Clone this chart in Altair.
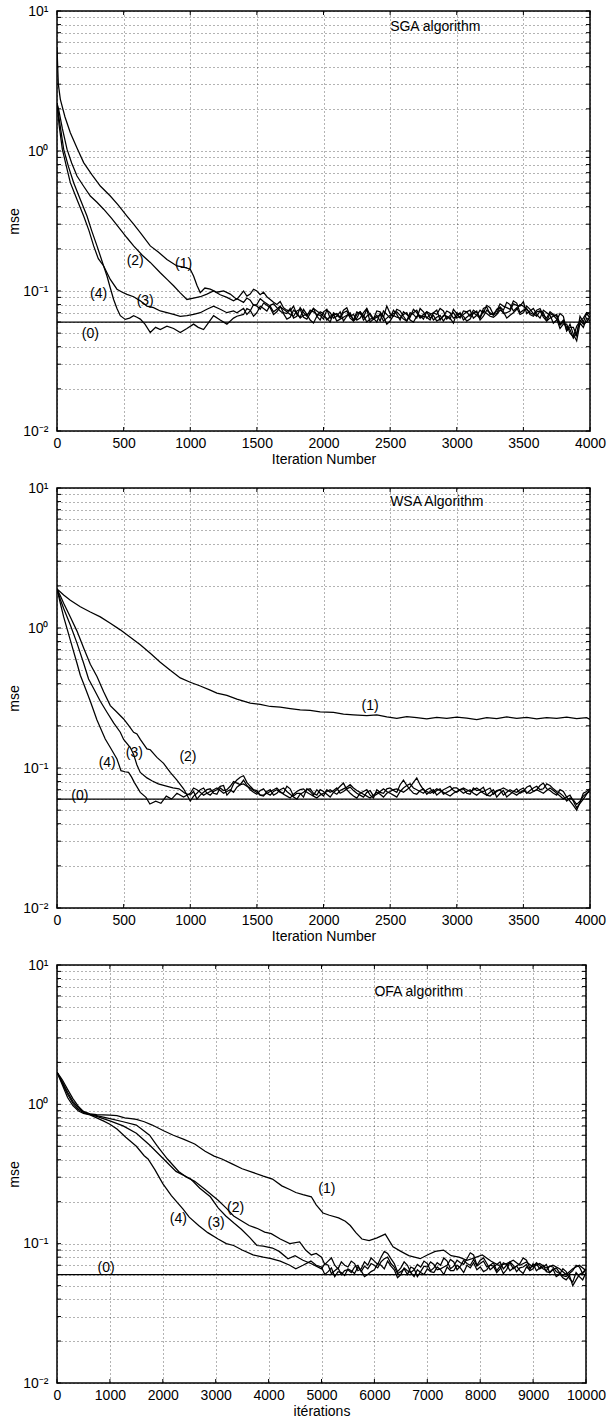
import altair as alt
import pandas as pd

FONT = "Liberation Sans"

# ---------------- SGA panel data ----------------
SGA_BAND_IT = list(range(1400, 4001, 50))
SGA_MID_IT = list(range(1425, 3976, 50))

SGA1_IT = [0, 10, 25, 60, 100, 150, 200, 260, 325, 400, 460, 525, 575, 625, 700, 760, 825, 900, 950, 1000,
           1025, 1050, 1075, 1110, 1150, 1200, 1250, 1300, 1350]
SGA1_V = [5.5, 3.0, 2.34, 1.75, 1.35, 1.05, 0.826, 0.68, 0.562, 0.477, 0.41, 0.343, 0.3, 0.261, 0.21, 0.19,
          0.168, 0.151, 0.148, 0.143, 0.128, 0.11, 0.0974, 0.105, 0.103, 0.098, 0.1, 0.095, 0.087]
SGA1_BAND = [0.100, 0.095, 0.100, 0.098, 0.087, 0.080, 0.076, 0.072, 0.068, 0.074, 0.070, 0.066, 0.071,
             0.064, 0.069, 0.073, 0.066, 0.062, 0.070, 0.067, 0.072, 0.065, 0.069, 0.074, 0.066, 0.070,
             0.064, 0.071, 0.068, 0.073, 0.067, 0.063, 0.069, 0.072, 0.066, 0.070, 0.075, 0.068, 0.072,
             0.078, 0.074, 0.082, 0.073, 0.068, 0.071, 0.065, 0.069, 0.063, 0.058, 0.050, 0.056, 0.064, 0.068]
SGA1_MID = [0.092, 0.103, 0.094, 0.091,
            0.083, 0.084, 0.073, 0.078, 0.065, 0.068, 0.075, 0.062,
            0.074, 0.067, 0.065, 0.076, 0.068, 0.064, 0.075, 0.063, 0.071, 0.078,
            0.066, 0.072, 0.061, 0.068, 0.075, 0.064, 0.070, 0.062, 0.066, 0.074,
            0.064, 0.071, 0.073, 0.065, 0.077, 0.069, 0.081, 0.076, 0.085, 0.070,
            0.075, 0.066, 0.072, 0.061, 0.067, 0.054, 0.058, 0.047, 0.061, 0.070]

SGA2_IT = [0, 12, 40, 75, 110, 150, 200, 250, 300, 350, 410, 475, 525, 575, 640, 700, 775, 830, 875, 925,
           975, 1025, 1075, 1125, 1175, 1225, 1275, 1325, 1350]
SGA2_V = [2.2, 1.99, 1.45, 1.03, 0.82, 0.662, 0.56, 0.477, 0.43, 0.384, 0.33, 0.276, 0.24, 0.21, 0.18, 0.16,
          0.135, 0.12, 0.109, 0.097, 0.087, 0.089, 0.091, 0.095, 0.1, 0.094, 0.09, 0.085, 0.088]
SGA2_BAND = [0.083, 0.086, 0.080, 0.084, 0.078, 0.074, 0.070, 0.075, 0.066, 0.070, 0.073, 0.068, 0.063,
             0.070, 0.066, 0.061, 0.068, 0.071, 0.065, 0.060, 0.067, 0.072, 0.064, 0.068, 0.071, 0.065,
             0.070, 0.066, 0.062, 0.068, 0.072, 0.067, 0.064, 0.068, 0.073, 0.067, 0.070, 0.076, 0.069,
             0.073, 0.080, 0.076, 0.070, 0.074, 0.066, 0.070, 0.064, 0.068, 0.062, 0.055, 0.048, 0.060, 0.064]
SGA2_MID = [0.089, 0.079, 0.088, 0.081,
            0.071, 0.078, 0.069, 0.064, 0.076, 0.066, 0.071, 0.067,
            0.073, 0.064, 0.071, 0.066, 0.062, 0.069, 0.074, 0.063, 0.061, 0.068,
            0.073, 0.062, 0.068, 0.074, 0.064, 0.065, 0.070, 0.075, 0.063, 0.070,
            0.066, 0.071, 0.064, 0.073, 0.079, 0.068, 0.077, 0.083, 0.072, 0.068,
            0.078, 0.069, 0.072, 0.061, 0.066, 0.058, 0.052, 0.055, 0.066, 0.069]

SGA3_IT = [0, 20, 50, 85, 125, 175, 225, 260, 300, 350, 400, 450, 490, 525, 575, 625, 675, 725, 775, 825,
           875, 925, 975, 1025, 1075, 1125, 1175, 1225, 1275, 1325, 1350]
SGA3_V = [2.2, 1.6, 1.03, 0.78, 0.594, 0.45, 0.343, 0.27, 0.21, 0.151, 0.121, 0.103, 0.098, 0.0946, 0.091,
          0.085, 0.078, 0.076, 0.072, 0.07, 0.068, 0.066, 0.0666, 0.068, 0.07, 0.074, 0.078, 0.074, 0.07,
          0.072, 0.07]
SGA3_BAND = [0.075, 0.072, 0.078, 0.082, 0.076, 0.071, 0.074, 0.068, 0.072, 0.065, 0.069, 0.072, 0.066,
             0.060, 0.067, 0.070, 0.064, 0.068, 0.062, 0.069, 0.065, 0.061, 0.067, 0.071, 0.063, 0.067,
             0.073, 0.068, 0.064, 0.061, 0.066, 0.070, 0.066, 0.062, 0.068, 0.072, 0.066, 0.070, 0.074,
             0.069, 0.072, 0.079, 0.084, 0.072, 0.068, 0.073, 0.067, 0.062, 0.066, 0.058, 0.044, 0.055, 0.061]
SGA3_MID = [0.068, 0.080, 0.074, 0.079,
            0.068, 0.077, 0.071, 0.066, 0.074, 0.063, 0.075, 0.069,
            0.064, 0.070, 0.064, 0.072, 0.061, 0.071, 0.066, 0.063, 0.068, 0.064,
            0.069, 0.067, 0.061, 0.070, 0.065, 0.071, 0.067, 0.063, 0.072, 0.064,
            0.070, 0.065, 0.069, 0.062, 0.073, 0.067, 0.076, 0.070, 0.081, 0.078,
            0.069, 0.075, 0.064, 0.070, 0.059, 0.069, 0.052, 0.049, 0.059, 0.064]

SGA4_IT = [0, 15, 40, 70, 100, 150, 200, 240, 275, 310, 350, 375, 400, 425, 450, 475, 512, 545, 575, 600,
           625, 660, 700, 740, 775, 825, 875, 925, 975, 1025, 1060, 1100, 1140, 1175, 1225, 1275, 1325, 1350]
SGA4_V = [2.2, 1.55, 1.03, 0.78, 0.594, 0.45, 0.343, 0.27, 0.21, 0.17, 0.151, 0.128, 0.105, 0.087, 0.075,
          0.0666, 0.0627, 0.064, 0.0666, 0.065, 0.063, 0.058, 0.0505, 0.055, 0.053, 0.056, 0.054, 0.0505,
          0.054, 0.058, 0.055, 0.053, 0.06, 0.0666, 0.062, 0.058, 0.064, 0.066]
SGA4_BAND = [0.068, 0.073, 0.070, 0.075, 0.079, 0.076, 0.069, 0.065, 0.070, 0.067, 0.062, 0.066, 0.069,
             0.066, 0.061, 0.065, 0.070, 0.064, 0.067, 0.063, 0.060, 0.066, 0.061, 0.065, 0.068, 0.062,
             0.066, 0.063, 0.069, 0.065, 0.061, 0.064, 0.070, 0.066, 0.063, 0.067, 0.072, 0.066, 0.068,
             0.071, 0.067, 0.074, 0.078, 0.070, 0.073, 0.067, 0.071, 0.066, 0.060, 0.053, 0.050, 0.058, 0.066]
SGA4_MID = [0.075, 0.066, 0.078, 0.072,
            0.081, 0.072, 0.063, 0.073, 0.064, 0.068, 0.059, 0.071,
            0.062, 0.068, 0.063, 0.067, 0.061, 0.071, 0.060, 0.064, 0.069, 0.058,
            0.067, 0.064, 0.070, 0.060, 0.067, 0.071, 0.062, 0.067, 0.066, 0.059,
            0.068, 0.061, 0.070, 0.064, 0.069, 0.065, 0.073, 0.064, 0.070, 0.080,
            0.074, 0.068, 0.075, 0.064, 0.068, 0.057, 0.055, 0.046, 0.062, 0.060]

SGA_LABEL_TXT = ["(0)", "(1)", "(2)", "(3)", "(4)"]
SGA_LABEL_IT = [250, 950, 587, 662, 312]
SGA_LABEL_V = [0.049, 0.155, 0.164, 0.085, 0.0946]
SGA_TITLE = ["SGA algorithm"]
SGA_TITLE_IT = [2500]
SGA_TITLE_V = [7.7]

# ---------------- WSA panel data ----------------
WSA_BAND_IT = list(range(1000, 4001, 50))
WSA_MID_IT = list(range(1025, 3976, 50))

WSA1_IT = [0, 50, 100, 175, 250, 325, 400, 475, 550, 625, 700, 775, 850, 925, 1000, 1075, 1150, 1200, 1275,
           1350, 1400, 1450, 1525, 1600, 1675, 1750, 1825, 1900, 1975, 2075, 2150, 2225, 2325, 2400, 2475,
           2550, 2625, 2700, 2775, 2850, 2925, 3000, 3075, 3150, 3225, 3300, 3375, 3450, 3525, 3600, 3675,
           3750, 3825, 3900, 3975, 4000]
WSA1_V = [1.9, 1.72, 1.58, 1.42, 1.3, 1.2, 1.08, 0.97, 0.86, 0.76, 0.66, 0.57, 0.5, 0.44, 0.41, 0.385, 0.36,
          0.343, 0.33, 0.31, 0.3, 0.291, 0.285, 0.275, 0.272, 0.266, 0.26, 0.258, 0.252, 0.25, 0.243, 0.24,
          0.237, 0.24, 0.232, 0.226, 0.233, 0.229, 0.224, 0.23, 0.226, 0.231, 0.227, 0.222, 0.229, 0.225,
          0.232, 0.226, 0.23, 0.224, 0.229, 0.226, 0.231, 0.225, 0.229, 0.222]

WSA2_IT = [0, 25, 50, 100, 150, 200, 250, 300, 350, 400, 450, 500, 540, 575, 600, 625, 675, 700, 750, 800,
           850, 900, 950]
WSA2_V = [1.9, 1.7, 1.5, 1.2, 0.95, 0.72, 0.55, 0.45, 0.35, 0.279, 0.25, 0.224, 0.2, 0.18, 0.175, 0.16,
          0.137, 0.135, 0.119, 0.108, 0.093, 0.082, 0.071]
WSA2_BAND = [0.058, 0.066, 0.072, 0.064, 0.070, 0.075, 0.068, 0.082, 0.088, 0.074,
             0.069, 0.063, 0.070, 0.066, 0.072, 0.065, 0.060, 0.067, 0.071, 0.064,
             0.068, 0.062, 0.070, 0.078, 0.066, 0.061, 0.068, 0.064, 0.070, 0.066,
             0.072, 0.067, 0.082, 0.070, 0.065, 0.071, 0.068, 0.064, 0.070, 0.074,
             0.067, 0.071, 0.065, 0.069, 0.073, 0.067, 0.062, 0.069, 0.065, 0.071,
             0.068, 0.075, 0.070, 0.078, 0.069, 0.064, 0.068, 0.058, 0.050, 0.066,
             0.071]
WSA2_MID = [0.063, 0.070, 0.066, 0.068, 0.074, 0.064, 0.077, 0.086, 0.079, 0.070,
            0.064, 0.068, 0.064, 0.070, 0.068, 0.062, 0.065, 0.070, 0.066, 0.070,
            0.065, 0.067, 0.074, 0.070, 0.063, 0.066, 0.070, 0.061, 0.067, 0.071,
            0.069, 0.076, 0.075, 0.066, 0.069, 0.065, 0.070, 0.067, 0.072, 0.069,
            0.070, 0.066, 0.072, 0.070, 0.064, 0.070, 0.066, 0.062, 0.068, 0.066,
            0.073, 0.068, 0.075, 0.071, 0.066, 0.070, 0.062, 0.054, 0.057, 0.068]

WSA3_IT = [0, 25, 50, 100, 150, 200, 237, 275, 325, 375, 425, 475, 500, 550, 575, 600, 625, 675, 712, 760,
           828, 870, 916, 960]
WSA3_V = [1.9, 1.6, 1.38, 1.05, 0.78, 0.56, 0.432, 0.37, 0.3, 0.25, 0.21, 0.18, 0.16, 0.14, 0.125, 0.105,
          0.093, 0.085, 0.081, 0.077, 0.074, 0.072, 0.071, 0.066]
WSA3_BAND = [0.064, 0.060, 0.067, 0.071, 0.065, 0.069, 0.074, 0.078, 0.082, 0.070,
             0.065, 0.071, 0.064, 0.070, 0.066, 0.071, 0.066, 0.062, 0.068, 0.070,
             0.063, 0.067, 0.072, 0.068, 0.073, 0.066, 0.062, 0.069, 0.065, 0.071,
             0.066, 0.062, 0.072, 0.077, 0.070, 0.066, 0.072, 0.069, 0.065, 0.069,
             0.072, 0.066, 0.070, 0.064, 0.068, 0.072, 0.068, 0.064, 0.070, 0.067,
             0.072, 0.069, 0.074, 0.071, 0.075, 0.068, 0.063, 0.061, 0.055, 0.063,
             0.068]
WSA3_MID = [0.068, 0.064, 0.070, 0.066, 0.072, 0.070, 0.080, 0.076, 0.075, 0.067,
            0.069, 0.066, 0.068, 0.067, 0.074, 0.063, 0.066, 0.071, 0.064, 0.066,
            0.070, 0.069, 0.066, 0.071, 0.069, 0.064, 0.067, 0.063, 0.068, 0.068,
            0.064, 0.068, 0.075, 0.072, 0.068, 0.070, 0.066, 0.071, 0.067, 0.072,
            0.069, 0.068, 0.066, 0.067, 0.070, 0.065, 0.070, 0.067, 0.068, 0.070,
            0.066, 0.072, 0.070, 0.077, 0.071, 0.066, 0.058, 0.059, 0.058, 0.066]

WSA4_IT = [0, 25, 50, 100, 150, 175, 200, 250, 300, 362, 400, 450, 480, 510, 537, 560, 580, 625, 668, 697,
           741, 780, 820, 860, 900, 950]
WSA4_V = [1.9, 1.5, 1.2, 0.82, 0.56, 0.46, 0.4, 0.3, 0.22, 0.161, 0.14, 0.116, 0.0957, 0.094, 0.093, 0.086,
          0.079, 0.067, 0.0617, 0.0553, 0.058, 0.056, 0.063, 0.06, 0.066, 0.062]
WSA4_BAND = [0.066, 0.070, 0.064, 0.068, 0.072, 0.066, 0.070, 0.073, 0.077, 0.072,
             0.067, 0.064, 0.068, 0.072, 0.065, 0.061, 0.068, 0.071, 0.065, 0.061,
             0.066, 0.070, 0.065, 0.071, 0.076, 0.069, 0.065, 0.061, 0.067, 0.062,
             0.068, 0.071, 0.067, 0.073, 0.085, 0.070, 0.066, 0.071, 0.067, 0.063,
             0.068, 0.072, 0.068, 0.072, 0.066, 0.063, 0.069, 0.072, 0.068, 0.064,
             0.069, 0.066, 0.070, 0.066, 0.072, 0.066, 0.060, 0.064, 0.052, 0.060,
             0.070]
WSA4_MID = [0.072, 0.067, 0.066, 0.070, 0.069, 0.068, 0.067, 0.076, 0.074, 0.069,
            0.064, 0.066, 0.070, 0.068, 0.063, 0.065, 0.070, 0.067, 0.063, 0.064,
            0.068, 0.067, 0.069, 0.073, 0.072, 0.067, 0.063, 0.064, 0.065, 0.066,
            0.070, 0.069, 0.070, 0.079, 0.076, 0.068, 0.068, 0.069, 0.065, 0.066,
            0.070, 0.070, 0.070, 0.069, 0.064, 0.066, 0.070, 0.070, 0.066, 0.067,
            0.067, 0.068, 0.068, 0.069, 0.069, 0.063, 0.062, 0.058, 0.056, 0.065]

WSA_LABEL_TXT = ["(0)", "(1)", "(2)", "(3)", "(4)"]
WSA_LABEL_IT = [172, 2350, 983, 580, 377]
WSA_LABEL_V = [0.0634, 0.279, 0.119, 0.129, 0.109]
WSA_TITLE = ["WSA Algorithm"]
WSA_TITLE_IT = [2500]
WSA_TITLE_V = [8.0]

# ---------------- OFA panel data ----------------
OFA_BAND_IT = list(range(5000, 10001, 125))
OFA_MID_IT = [5062.5 + 125 * k for k in range(40)]

OFA1_IT = [0, 100, 200, 300, 400, 500, 625, 750, 875, 1000, 1133, 1280, 1400, 1500, 1650, 1800, 2015, 2200,
           2400, 2603, 2800, 2970, 3117, 3300, 3500, 3700, 3900, 4073, 4250, 4400, 4514, 4650, 4808, 4900,
           5028, 5150, 5323, 5450, 5544, 5650, 5764, 5900, 6050, 6205, 6352, 6500, 6650, 6866, 7000, 7150,
           7307, 7450, 7600, 7750, 7848, 8040, 8200, 8350, 8500, 8625, 8750, 8875, 9000, 9125, 9250, 9375,
           9500, 9625, 9750, 9875, 10000]
OFA1_V = [1.7, 1.45, 1.22, 1.05, 0.95, 0.88, 0.855, 0.845, 0.84, 0.835, 0.83, 0.8, 0.79, 0.78, 0.75, 0.71,
          0.646, 0.6, 0.56, 0.519, 0.46, 0.425, 0.405, 0.375, 0.345, 0.325, 0.305, 0.291, 0.26, 0.245,
          0.233, 0.225, 0.217, 0.19, 0.166, 0.16, 0.153, 0.145, 0.135, 0.12, 0.108, 0.105, 0.11, 0.117,
          0.095, 0.088, 0.082, 0.078, 0.083, 0.088, 0.09, 0.082, 0.08, 0.076, 0.078, 0.083, 0.075, 0.07,
          0.072, 0.076, 0.07, 0.074, 0.068, 0.072, 0.067, 0.07, 0.066, 0.06, 0.066, 0.07, 0.064]

OFA2_IT = [0, 100, 200, 300, 400, 500, 625, 750, 875, 1000, 1250, 1500, 1750, 1900, 2088, 2300, 2450, 2603,
           2800, 3045, 3200, 3339, 3500, 3632, 3800, 3926, 4050, 4220, 4400, 4587, 4700, 4808, 4900]
OFA2_V = [1.7, 1.5, 1.28, 1.1, 0.97, 0.89, 0.85, 0.83, 0.81, 0.79, 0.75, 0.71, 0.6, 0.5, 0.405, 0.33, 0.3,
          0.28, 0.245, 0.205, 0.18, 0.158, 0.145, 0.135, 0.128, 0.121, 0.118, 0.108, 0.1, 0.103, 0.09,
          0.083, 0.085]
OFA2_BAND = [0.080, 0.075, 0.070, 0.074, 0.068, 0.072, 0.066, 0.070,
             0.075, 0.080, 0.085, 0.072, 0.067, 0.070, 0.065, 0.068,
             0.072, 0.067, 0.070, 0.075, 0.069, 0.073, 0.078, 0.083,
             0.076, 0.072, 0.068, 0.074, 0.070, 0.066, 0.072, 0.076,
             0.070, 0.066, 0.071, 0.065, 0.062, 0.058, 0.064, 0.068,
             0.065]
OFA2_MID = [0.071, 0.079, 0.066, 0.070, 0.075, 0.064, 0.074, 0.079,
            0.071, 0.088, 0.078, 0.063, 0.074, 0.062, 0.071, 0.075,
            0.064, 0.073, 0.079, 0.066, 0.076, 0.071, 0.086, 0.070,
            0.079, 0.065, 0.071, 0.066, 0.073, 0.069, 0.079, 0.067,
            0.072, 0.068, 0.062, 0.067, 0.059, 0.061, 0.070, 0.061]

OFA3_IT = [0, 100, 200, 300, 400, 500, 625, 750, 875, 1000, 1250, 1500, 1750, 2015, 2250, 2529, 2700, 2898,
           3050, 3191, 3350, 3485, 3650, 3779, 3900, 4073, 4200, 4367, 4500, 4650, 4800, 4900]
OFA3_V = [1.7, 1.42, 1.18, 1.02, 0.92, 0.87, 0.845, 0.82, 0.79, 0.76, 0.7, 0.62, 0.51, 0.405, 0.33, 0.291,
          0.25, 0.217, 0.18, 0.158, 0.14, 0.127, 0.11, 0.097, 0.096, 0.093, 0.088, 0.078, 0.082, 0.076,
          0.072, 0.069]
OFA3_BAND = [0.066, 0.070, 0.064, 0.060, 0.065, 0.068, 0.063, 0.066,
             0.070, 0.074, 0.080, 0.068, 0.063, 0.060, 0.066, 0.063,
             0.068, 0.071, 0.066, 0.070, 0.074, 0.069, 0.072, 0.077,
             0.072, 0.068, 0.073, 0.069, 0.065, 0.070, 0.067, 0.071,
             0.066, 0.070, 0.064, 0.068, 0.061, 0.055, 0.050, 0.060,
             0.066]
OFA3_MID = [0.072, 0.061, 0.067, 0.064, 0.062, 0.070, 0.069, 0.072,
            0.067, 0.078, 0.072, 0.061, 0.066, 0.068, 0.058, 0.069,
            0.074, 0.065, 0.068, 0.077, 0.065, 0.076, 0.070, 0.069,
            0.075, 0.070, 0.064, 0.061, 0.074, 0.063, 0.068, 0.064,
            0.073, 0.066, 0.069, 0.063, 0.057, 0.059, 0.055, 0.062]

OFA4_IT = [0, 100, 200, 300, 400, 500, 625, 750, 875, 1000, 1133, 1300, 1500, 1648, 1721, 1850, 2000, 2162,
           2383, 2500, 2677, 2850, 3045, 3200, 3339, 3500, 3706, 3900, 4050, 4220, 4400, 4514, 4650, 4800,
           4900]
OFA4_V = [1.7, 1.38, 1.12, 0.98, 0.9, 0.86, 0.84, 0.8, 0.76, 0.72, 0.665, 0.58, 0.5, 0.428, 0.405, 0.34,
          0.27, 0.221, 0.177, 0.155, 0.135, 0.12, 0.108, 0.1, 0.097, 0.09, 0.083, 0.08, 0.078, 0.075, 0.07,
          0.066, 0.07, 0.075, 0.07]
OFA4_BAND = [0.068, 0.063, 0.058, 0.062, 0.066, 0.061, 0.064, 0.060,
             0.065, 0.070, 0.075, 0.065, 0.060, 0.064, 0.058, 0.062,
             0.066, 0.062, 0.065, 0.068, 0.064, 0.067, 0.070, 0.073,
             0.068, 0.065, 0.069, 0.066, 0.071, 0.067, 0.064, 0.068,
             0.072, 0.067, 0.063, 0.066, 0.060, 0.063, 0.053, 0.058,
             0.062]
OFA4_MID = [0.060, 0.067, 0.063, 0.059, 0.064, 0.068, 0.058, 0.063,
            0.072, 0.066, 0.069, 0.057, 0.067, 0.062, 0.065, 0.060,
            0.063, 0.068, 0.060, 0.064, 0.070, 0.062, 0.067, 0.065,
            0.063, 0.070, 0.062, 0.073, 0.064, 0.069, 0.061, 0.065,
            0.064, 0.070, 0.062, 0.058, 0.066, 0.056, 0.062, 0.055]

OFA_LABEL_TXT = ["(0)", "(1)", "(2)", "(3)", "(4)"]
OFA_LABEL_IT = [928, 5102, 3375, 3008, 2294]
OFA_LABEL_V = [0.0665, 0.246, 0.18, 0.14, 0.15]
OFA_TITLE = ["OFA algorithm"]
OFA_TITLE_IT = [6000]
OFA_TITLE_V = [6.4]

ZERO_LEVEL = 0.06

# axis tick values (log decades with minor ticks)
YVALS = [round(m * 10.0 ** e, 10) for e in (-2, -1, 0) for m in range(1, 10)] + [10.0]
LABEL_EXPR = ("datum.value == 0.01 ? '10\u207b\u00b2' : datum.value == 0.1 ? '10\u207b\u00b9' : "
              "datum.value == 1 ? '10\u2070' : datum.value == 10 ? '10\u00b9' : ''")

TICK = 4


def build_df(series):
    rows = []
    for name, its, vals in series:
        assert len(its) == len(vals), (name, len(its), len(vals))
        for t, v in zip(its, vals):
            rows.append({"it": t, "mse": v, "s": name})
    return pd.DataFrame(rows).sort_values(["s", "it"])


def panel(series, xmax, xstep, w, h, xtitle, lab, title):
    df = build_df(series + [("(0)", [0, xmax], [ZERO_LEVEL, ZERO_LEVEL])])
    xvals = list(range(0, xmax + 1, xstep))
    xs = alt.Scale(domain=[0, xmax], nice=False, zero=False)
    ys = alt.Scale(type="log", domain=[0.01, 10], nice=False)
    common = dict(grid=True, gridColor="#000000", gridOpacity=0.6, gridDash=[1, 3], gridWidth=1,
                  ticks=False, tickSize=0, domain=False, labelOverlap=False,
                  labelFont=FONT, titleFont=FONT, labelFontSize=14, titleFontSize=14,
                  titleFontWeight="normal", labelColor="black", titleColor="black")
    xaxis = alt.Axis(values=xvals, format="d", title=xtitle, labelPadding=5, titlePadding=2,
                     labelFlush=False, **common)
    yaxis = alt.Axis(values=YVALS, labelExpr=LABEL_EXPR, title="mse", labelPadding=9,
                     minExtent=32, maxExtent=32, titlePadding=4, **common)
    X = alt.X("it:Q", scale=xs, axis=xaxis)
    Y = alt.Y("mse:Q", scale=ys, axis=yaxis)

    lines = alt.Chart(df).mark_line(color="black", strokeWidth=1.25, clip=True).encode(
        x=X, y=Y, detail="s:N", order="it:Q")
    ydf = pd.DataFrame({"mse": YVALS})
    xdf = pd.DataFrame({"it": xvals})
    lt = alt.Chart(ydf).mark_rule(color="black", strokeWidth=1).encode(
        y=Y, x=alt.value(0), x2=alt.value(TICK))
    rt = alt.Chart(ydf).mark_rule(color="black", strokeWidth=1).encode(
        y=Y, x=alt.value(w), x2=alt.value(w - TICK))
    bt = alt.Chart(xdf).mark_rule(color="black", strokeWidth=1).encode(
        x=X, y=alt.value(h), y2=alt.value(h - TICK))
    tt = alt.Chart(xdf).mark_rule(color="black", strokeWidth=1).encode(
        x=X, y=alt.value(0), y2=alt.value(TICK))

    ldf = pd.DataFrame({"it": lab[1], "mse": lab[2], "txt": lab[0]})
    labels = alt.Chart(ldf).mark_text(font=FONT, fontSize=14, color="black", align="center",
                                      baseline="middle").encode(x=X, y=Y, text="txt:N")
    tdf = pd.DataFrame({"it": title[1], "mse": title[2], "txt": title[0]})
    ttl = alt.Chart(tdf).mark_text(font=FONT, fontSize=14, color="black", align="left",
                                   baseline="middle").encode(x=X, y=Y, text="txt:N")

    return alt.layer(lines, lt, rt, bt, tt, labels, ttl).properties(width=w, height=h)


sga = panel(
    [("(1)", SGA1_IT + SGA_BAND_IT + SGA_MID_IT, SGA1_V + SGA1_BAND + SGA1_MID),
     ("(2)", SGA2_IT + SGA_BAND_IT + SGA_MID_IT, SGA2_V + SGA2_BAND + SGA2_MID),
     ("(3)", SGA3_IT + SGA_BAND_IT + SGA_MID_IT, SGA3_V + SGA3_BAND + SGA3_MID),
     ("(4)", SGA4_IT + SGA_BAND_IT + SGA_MID_IT, SGA4_V + SGA4_BAND + SGA4_MID)],
    4000, 500, 533, 420, "Iteration Number",
    (SGA_LABEL_TXT, SGA_LABEL_IT, SGA_LABEL_V), (SGA_TITLE, SGA_TITLE_IT, SGA_TITLE_V))

wsa = panel(
    [("(1)", WSA1_IT, WSA1_V),
     ("(2)", WSA2_IT + WSA_BAND_IT + WSA_MID_IT, WSA2_V + WSA2_BAND + WSA2_MID),
     ("(3)", WSA3_IT + WSA_BAND_IT + WSA_MID_IT, WSA3_V + WSA3_BAND + WSA3_MID),
     ("(4)", WSA4_IT + WSA_BAND_IT + WSA_MID_IT, WSA4_V + WSA4_BAND + WSA4_MID)],
    4000, 500, 533, 420, "Iteration Number",
    (WSA_LABEL_TXT, WSA_LABEL_IT, WSA_LABEL_V), (WSA_TITLE, WSA_TITLE_IT, WSA_TITLE_V))

ofa = panel(
    [("(1)", OFA1_IT, OFA1_V),
     ("(2)", OFA2_IT + OFA_BAND_IT + OFA_MID_IT, OFA2_V + OFA2_BAND + OFA2_MID),
     ("(3)", OFA3_IT + OFA_BAND_IT + OFA_MID_IT, OFA3_V + OFA3_BAND + OFA3_MID),
     ("(4)", OFA4_IT + OFA_BAND_IT + OFA_MID_IT, OFA4_V + OFA4_BAND + OFA4_MID)],
    10000, 1000, 529, 418, "it\u00e9rations",
    (OFA_LABEL_TXT, OFA_LABEL_IT, OFA_LABEL_V), (OFA_TITLE, OFA_TITLE_IT, OFA_TITLE_V))

chart = alt.vconcat(sga, wsa, ofa, spacing=57, bounds="flush").properties(
    padding={"left": 6, "top": 3, "right": 2, "bottom": 2},
    background="white",
).configure_view(
    stroke="black", strokeWidth=1.5
)

chart.save("out.html", embed_options={"renderer": "svg", "actions": False})
